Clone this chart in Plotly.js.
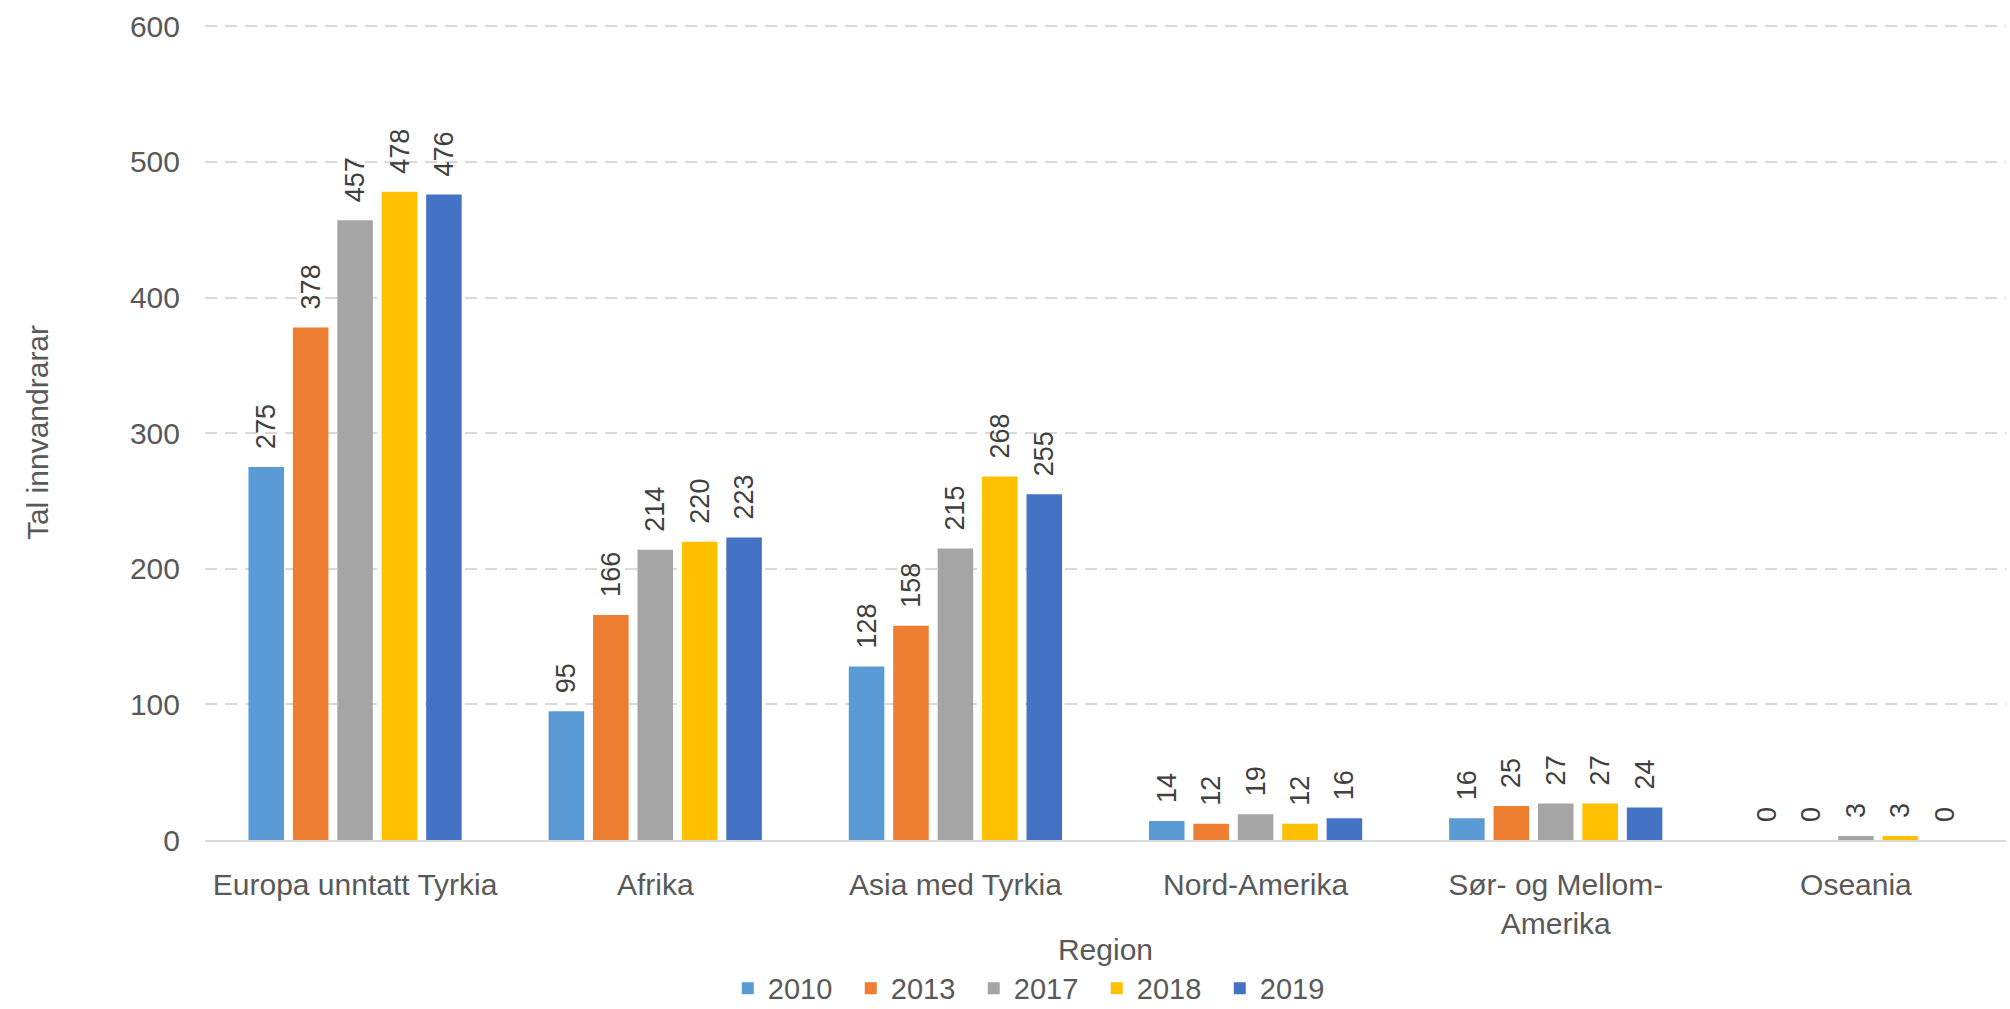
<!DOCTYPE html>
<html>
<head>
<meta charset="utf-8">
<script src="https://cdn.plot.ly/plotly-3.0.1.min.js"></script>
<style>html,body{margin:0;padding:0;background:#fff;}#chart{width:2010px;height:1009px;}</style>
</head>
<body>
<div id="chart"></div>
<script>
const regions = ["Europa unntatt Tyrkia", "Afrika", "Asia med Tyrkia", "Nord-Amerika", "Sør- og Mellom-<br>Amerika", "Oseania"];
const years = ["2010", "2013", "2017", "2018", "2019"];
const v2010 = [275, 95, 128, 14, 16, 0];
const v2013 = [378, 166, 158, 12, 25, 0];
const v2017 = [457, 214, 215, 19, 27, 3];
const v2018 = [478, 220, 268, 12, 27, 3];
const v2019 = [476, 223, 255, 16, 24, 0];
const series = [v2010, v2013, v2017, v2018, v2019];
const colors = ["#5B9BD5", "#ED7D31", "#A5A5A5", "#FFC000", "#4472C4"];
const FONT = "Liberation Sans, Arial, sans-serif";

const traces = series.map((vals, i) => ({
  type: "bar",
  name: years[i],
  x: regions,
  y: vals,
  marker: {color: colors[i]},
  text: vals.map(v => "\u00a0\u00a0" + v),
  textposition: "outside",
  textangle: -90,
  textfont: {family: FONT, size: 27, color: "#404040"},
  cliponaxis: false,
  constraintext: "none",
  hoverinfo: "x+y+name"
}));

const layout = {
  width: 2010,
  height: 1009,
  margin: {l: 205, r: 4, t: 25, b: 169, autoexpand: false},
  paper_bgcolor: "#ffffff",
  plot_bgcolor: "#ffffff",
  font: {family: FONT, size: 30, color: "#595959"},
  barmode: "group",
  bargap: 0.26,
  bargroupgap: 0.2,
  showlegend: true,
  legend: {
    orientation: "h",
    x: 0.461, xanchor: "center",
    y: -0.182, yanchor: "middle",
    entrywidth: 78,
    font: {family: FONT, size: 29, color: "#595959"},
    traceorder: "normal"
  },
  xaxis: {
    type: "category",
    showline: true,
    linecolor: "#d9d9d9",
    linewidth: 2,
    showgrid: false,
    ticks: "",
    ticklabelstandoff: 17,
    tickfont: {family: FONT, size: 30, color: "#595959"},
    title: {text: "Region", font: {family: FONT, size: 30, color: "#595959"}, standoff: 0}
  },
  yaxis: {
    range: [0, 601],
    tickvals: [0, 100, 200, 300, 400, 500, 600],
    showgrid: true,
    gridcolor: "#d9d9d9",
    gridwidth: 2,
    griddash: "12px,8px",
    zeroline: false,
    showline: false,
    ticks: "",
    ticklabelstandoff: 24,
    tickfont: {family: FONT, size: 30, color: "#595959"},
    title: {text: "Tal innvandrarar", font: {family: FONT, size: 30, color: "#595959"}, standoff: 72}
  }
};

Plotly.newPlot("chart", traces, layout, {displayModeBar: false, responsive: false});
</script>
</body>
</html>
